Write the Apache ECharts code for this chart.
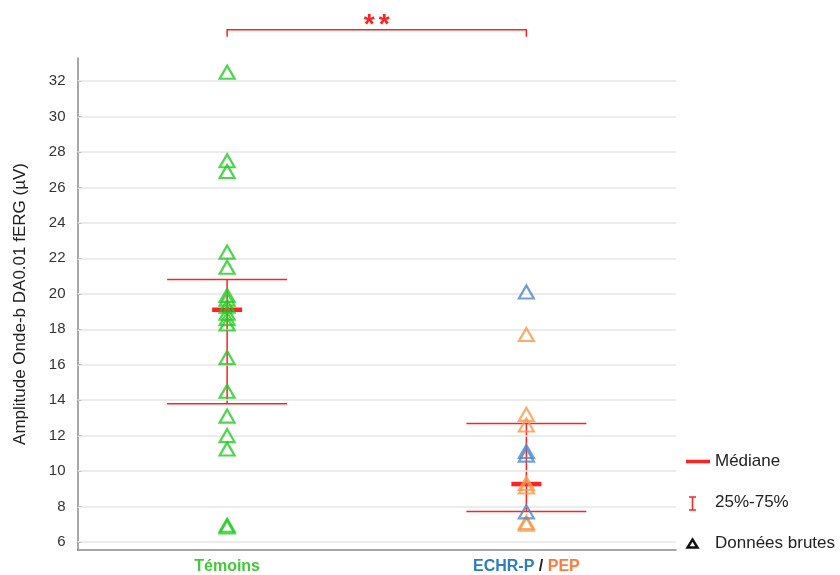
<!DOCTYPE html>
<html><head><meta charset="utf-8">
<script src="https://cdn.jsdelivr.net/npm/echarts@6/dist/echarts.min.js"></script>
<style>html,body{margin:0;padding:0;background:#fff}#c{width:840px;height:575px}</style>
</head><body><div id="c"></div>
<script>
// ---- data ----
const categories = ['Témoins', 'ECHR-P / PEP'];
const yTicks = [6, 8, 10, 12, 14, 16, 18, 20, 22, 24, 26, 28, 30, 32];
const temoins = [32.5, 27.5, 26.9, 22.35, 21.5, 19.9, 19.7, 19.3, 18.9, 18.6, 18.3, 16.4, 14.5, 13.1, 12.0, 11.25, 6.95, 6.85];
const echrp = [20.1, 11.1, 10.9, 7.7];
const pep = [17.7, 13.2, 12.6, 9.3, 9.1, 7.1, 7.0];
// [category index, Q1, median, Q3]
const quartiles = [[0, 13.8, 19.1, 20.8], [1, 7.72, 9.27, 12.68]];
const sigLevel = 34.9;
const sigMarks = ['*', '*'];

const RED = '#ff2222', GREEN = '#22cc22', BLUE = '#4f86cc', ORANGE = '#f7984a';

const chart = echarts.init(document.getElementById('c'), null, {renderer: 'canvas'});

function pts(arr, ci) { return arr.map(v => [ci, v]); }
function tri(name, data, color) {
  return {
    name, type: 'scatter', data, symbol: 'triangle', symbolSize: [15, 13],
    itemStyle: {color: 'rgba(0,0,0,0)', borderColor: color, borderWidth: 2.2},
    z: 5, silent: true
  };
}
const LF = 'Liberation Sans';

chart.setOption({
  animation: false,
  grid: {left: 77.5, right: 164, top: 58, bottom: 24},
  xAxis: {
    type: 'category', data: categories, boundaryGap: true,
    axisLine: {lineStyle: {color: '#8a8a8a', width: 1.5}},
    axisTick: {alignWithLabel: true, inside: true, length: 3, lineStyle: {color: '#666'}},
    axisLabel: {
      margin: 9, fontFamily: LF, fontSize: 16, fontWeight: 'bold',
      formatter: function (v) {
        if (v === categories[0]) return '{g|' + v + '}';
        const p = v.split(' / ');
        return '{b|' + p[0] + '}{k| / }{o|' + p[1] + '}';
      },
      rich: {
        g: {color: '#44c83a', fontWeight: 'bold', fontSize: 16, fontFamily: LF},
        b: {color: '#2a7dc4', fontWeight: 'bold', fontSize: 16, fontFamily: LF},
        k: {color: '#222', fontWeight: 'bold', fontSize: 16, fontFamily: LF},
        o: {color: '#ff7a3c', fontWeight: 'bold', fontSize: 16, fontFamily: LF}
      }
    },
    splitLine: {show: false}
  },
  yAxis: {
    type: 'value', min: 5.55, max: 33.3,
    name: 'Amplitude Onde-b DA0.01 fERG (µV)', nameLocation: 'middle', nameGap: 49,
    nameTextStyle: {fontFamily: LF, fontSize: 17, color: '#222'},
    axisLine: {show: true, lineStyle: {color: '#8a8a8a', width: 1.5}},
    axisTick: {show: true, inside: true, length: 4, customValues: yTicks, lineStyle: {color: '#666'}},
    axisLabel: {customValues: yTicks, fontFamily: LF, fontSize: 15, color: '#333', margin: 12},
    splitLine: {show: false}
  },
  series: [
    {
      type: 'line', data: [], silent: true,
      markLine: {
        silent: true, symbol: 'none', label: {show: false},
        lineStyle: {color: '#e6e6e6', width: 1.5, type: 'solid'},
        data: yTicks.map(v => ({yAxis: v}))
      }
    },
    {
      type: 'custom', data: quartiles, silent: true, z: 4,
      renderItem: function (params, api) {
        const x = api.value(0);
        const q1 = api.coord([x, api.value(1)]);
        const md = api.coord([x, api.value(2)]);
        const q3 = api.coord([x, api.value(3)]);
        const cx = q1[0];
        const ls = {stroke: RED, lineWidth: 1.5};
        return {type: 'group', children: [
          {type: 'line', shape: {x1: cx, y1: q1[1], x2: cx, y2: q3[1]}, style: ls},
          {type: 'line', shape: {x1: cx - 60, y1: q1[1], x2: cx + 60, y2: q1[1]}, style: ls},
          {type: 'line', shape: {x1: cx - 60, y1: q3[1], x2: cx + 60, y2: q3[1]}, style: ls},
          {type: 'line', shape: {x1: cx - 15, y1: md[1], x2: cx + 15, y2: md[1]}, style: {stroke: RED, lineWidth: 4.5}}
        ]};
      }
    },
    tri('Témoins', pts(temoins, 0), GREEN),
    tri('PEP', pts(pep, 1), ORANGE),
    tri('ECHR-P', pts(echrp, 1), BLUE),
    {
      type: 'custom', data: [[0, 1, sigLevel]], silent: true, clip: false, z: 6,
      renderItem: function (params, api) {
        const a = api.coord([api.value(0), api.value(2)]);
        const b = api.coord([api.value(1), api.value(2)]);
        const ls = {stroke: RED, lineWidth: 1.5, fill: null};
        const mid = (a[0] + b[0]) / 2;
        const kids = [
          {type: 'polyline', shape: {points: [[a[0], a[1] + 7], [a[0], a[1]], [b[0], b[1]], [b[0], b[1] + 7]]}, style: ls}
        ];
        sigMarks.forEach((m, i) => {
          kids.push({type: 'text', style: {text: m, x: mid + (i - (sigMarks.length - 1) / 2) * 15, y: a[1] - 4,
            align: 'center', verticalAlign: 'middle', fill: RED, font: 'bold 28px Liberation Sans'}});
        });
        return {type: 'group', children: kids};
      }
    }
  ],
  graphic: [
    {type: 'line', shape: {x1: 686, y1: 461.5, x2: 710, y2: 461.5}, style: {stroke: RED, lineWidth: 3.5}},
    {type: 'text', style: {text: 'Médiane', x: 715, y: 461, verticalAlign: 'middle', font: '17px Liberation Sans', fill: '#222'}},
    {type: 'polyline', shape: {points: [[689, 497], [696, 497]]}, style: {stroke: RED, lineWidth: 1.5}},
    {type: 'polyline', shape: {points: [[689, 510], [696, 510]]}, style: {stroke: RED, lineWidth: 1.5}},
    {type: 'polyline', shape: {points: [[692.5, 497], [692.5, 510]]}, style: {stroke: RED, lineWidth: 1.5}},
    {type: 'text', style: {text: '25%-75%', x: 715, y: 502, verticalAlign: 'middle', font: '17px Liberation Sans', fill: '#222'}},
    {type: 'polygon', shape: {points: [[692.5, 539.5], [697.5, 547.5], [687.5, 547.5]]}, style: {stroke: '#111', lineWidth: 2.4, fill: null}},
    {type: 'text', style: {text: 'Données brutes', x: 715, y: 543, verticalAlign: 'middle', font: '17px Liberation Sans', fill: '#222'}}
  ]
});
</script></body></html>
